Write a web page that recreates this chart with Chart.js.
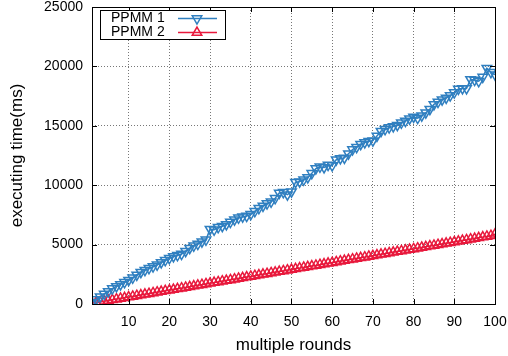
<!DOCTYPE html>
<html>
<head>
<meta charset="utf-8">
<script src="https://cdn.jsdelivr.net/npm/chart.js@4/dist/chart.umd.min.js"></script>
<style>
  html, body { margin: 0; padding: 0; background: #fff; }
  #wrap { width: 508px; height: 356px; }
</style>
</head>
<body>
<div id="wrap"><canvas id="chart"></canvas></div>
<script>
// data
const seriesNames = ["PPMM 1", "PPMM 2"];
const rounds = Array.from({ length: 100 }, (_, i) => i + 1);
const ppmm1 = [
  150, 380, 620, 850, 1050, 1300, 1480, 1650, 1830, 2000,
  2200, 2450, 2680, 2850, 3000, 3150, 3300, 3500, 3680, 3850,
  4000, 4100, 4200, 4450, 4700, 4900, 5050, 5250, 5400, 6300,
  6250, 6450, 6550, 6700, 6900, 7100, 7250, 7350, 7400, 7550,
  7800, 8050, 8250, 8450, 8600, 8900, 9350, 9400, 9200, 9450,
  10250, 10300, 10450, 10650, 11000, 11400, 11550, 11500, 11700, 11650,
  12150, 12250, 12300, 12650, 13000, 13200, 13450, 13600, 13700, 13750,
  14150, 14550, 14700, 14850, 14950, 15050, 15250, 15400, 15600, 15750,
  15650, 15850, 16100, 16400, 16800, 17000, 17200, 17350, 17550, 17800,
  18100, 18150, 18150, 18900, 18850, 18750, 19100, 19850, 19500, 19300
];
const ppmm2 = [
  60, 120, 175, 235, 295, 350, 410, 465, 525, 585,
  640, 700, 755, 815, 870, 930, 990, 1045, 1105, 1160,
  1220, 1280, 1335, 1395, 1450, 1510, 1570, 1625, 1685, 1740,
  1800, 1860, 1915, 1975, 2030, 2090, 2150, 2205, 2265, 2320,
  2380, 2440, 2495, 2555, 2610, 2670, 2730, 2785, 2845, 2900,
  2960, 3020, 3075, 3135, 3190, 3250, 3310, 3365, 3425, 3480,
  3540, 3600, 3655, 3715, 3770, 3830, 3890, 3945, 4005, 4060,
  4120, 4180, 4235, 4295, 4350, 4410, 4470, 4525, 4585, 4640,
  4700, 4760, 4815, 4875, 4930, 4990, 5050, 5105, 5165, 5220,
  5280, 5340, 5395, 5455, 5510, 5570, 5630, 5685, 5745, 5870
];
const xTicks = [10, 20, 30, 40, 50, 60, 70, 80, 90, 100];
const yTicks = [0, 5000, 10000, 15000, 20000, 25000];

const blue = "#2f7fc0";
const red = "#e8193c";
const font = "'Liberation Sans', Arial, sans-serif";

// frame, inward tick marks and gnuplot-style key
const framePlugin = {
  id: "frame",
  afterDraw(chart) {
    const ctx = chart.ctx;
    const a = chart.chartArea;
    const xs = chart.scales.x, ys = chart.scales.y;
    ctx.save();
    ctx.strokeStyle = "#000";
    ctx.lineWidth = 1;
    ctx.setLineDash([]);
    ctx.strokeRect(a.left + 0.5, a.top + 0.5, a.right - a.left, a.bottom - a.top);
    ctx.beginPath();
    xTicks.forEach(v => {
      const p = Math.round(xs.getPixelForValue(v)) + 0.5;
      ctx.moveTo(p, a.bottom); ctx.lineTo(p, a.bottom - 5);
      ctx.moveTo(p, a.top); ctx.lineTo(p, a.top + 5);
    });
    yTicks.forEach(v => {
      const p = Math.round(ys.getPixelForValue(v)) + 0.5;
      ctx.moveTo(a.left, p); ctx.lineTo(a.left + 5, p);
      ctx.moveTo(a.right, p); ctx.lineTo(a.right - 5, p);
    });
    ctx.stroke();

    // key box
    const bx = 100.5, by = 10.5, bw = 125, bh = 29;
    ctx.fillStyle = "#fff";
    ctx.fillRect(bx, by, bw, bh);
    ctx.strokeRect(bx, by, bw, bh);
    ctx.font = "14px " + font;
    ctx.textBaseline = "middle";
    ctx.textAlign = "left";
    chart.data.datasets.forEach((ds, i) => {
      const y = by + 8 + i * 14;
      ctx.fillStyle = "#000";
      ctx.fillText(ds.label, 111, y);
      ctx.strokeStyle = ds.borderColor;
      ctx.lineWidth = 1.5;
      ctx.beginPath();
      ctx.moveTo(178, y); ctx.lineTo(217, y);
      ctx.stroke();
      ctx.fillStyle = "rgba(0,0,0,0)";
      Chart.helpers.drawPoint(ctx, {
        pointStyle: "triangle",
        rotation: ds.pointRotation,
        radius: ds.pointRadius,
        borderWidth: 1.5
      }, 197, y);
    });
    ctx.restore();
  }
};

new Chart(document.getElementById("chart"), {
  type: "line",
  data: {
    labels: rounds,
    datasets: [
      {
        label: seriesNames[0],
        data: ppmm1,
        borderColor: blue,
        backgroundColor: "rgba(0,0,0,0)",
        borderWidth: 1.5,
        pointStyle: "triangle",
        pointRotation: 180,
        pointRadius: 5.5,
        pointBorderWidth: 1.5,
        pointBorderColor: blue,
        pointBackgroundColor: "rgba(0,0,0,0)",
        tension: 0
      },
      {
        label: seriesNames[1],
        data: ppmm2,
        borderColor: red,
        backgroundColor: "rgba(0,0,0,0)",
        borderWidth: 1.5,
        pointStyle: "triangle",
        pointRotation: 0,
        pointRadius: 5.5,
        pointBorderWidth: 1.5,
        pointBorderColor: red,
        pointBackgroundColor: "rgba(0,0,0,0)",
        tension: 0
      }
    ]
  },
  options: {
    responsive: true,
    maintainAspectRatio: false,
    animation: false,
    events: [],
    layout: { padding: { top: 5, right: 13, left: 0, bottom: 0 } },
    plugins: {
      legend: { display: false },
      tooltip: { enabled: false }
    },
    scales: {
      x: {
        type: "linear",
        min: 1,
        max: 100,
        afterBuildTicks(scale) {
          scale.ticks = xTicks.map(v => ({ value: v }));
        },
        afterFit(scale) {
          scale.height = 52;
          scale.paddingLeft = 0;
          scale.paddingRight = 0;
        },
        grid: {
          color: "#777",
          lineWidth: 1,
          drawTicks: false
        },
        border: { display: false, dash: [1, 2] },
        ticks: {
          color: "#000",
          padding: 10,
          maxRotation: 0,
          font: { family: font, size: 14 },
          callback: v => String(v)
        },
        title: {
          display: true,
          text: "multiple rounds",
          color: "#000",
          padding: { top: 2, bottom: 0 },
          font: { family: font, size: 17 }
        }
      },
      y: {
        min: 0,
        max: 25000,
        afterBuildTicks(scale) {
          scale.ticks = yTicks.map(v => ({ value: v }));
        },
        afterFit(scale) {
          scale.width = 92;
          scale.paddingTop = 0;
          scale.paddingBottom = 0;
        },
        grid: {
          color: "#777",
          lineWidth: 1,
          drawTicks: false
        },
        border: { display: false, dash: [1, 2] },
        ticks: {
          color: "#000",
          padding: 9,
          font: { family: font, size: 14 },
          callback: v => String(v)
        },
        title: {
          display: true,
          text: "executing time(ms)",
          color: "#000",
          padding: { top: 7, bottom: 0 },
          font: { family: font, size: 17 }
        }
      }
    }
  },
  plugins: [framePlugin]
});
</script>
</body>
</html>
